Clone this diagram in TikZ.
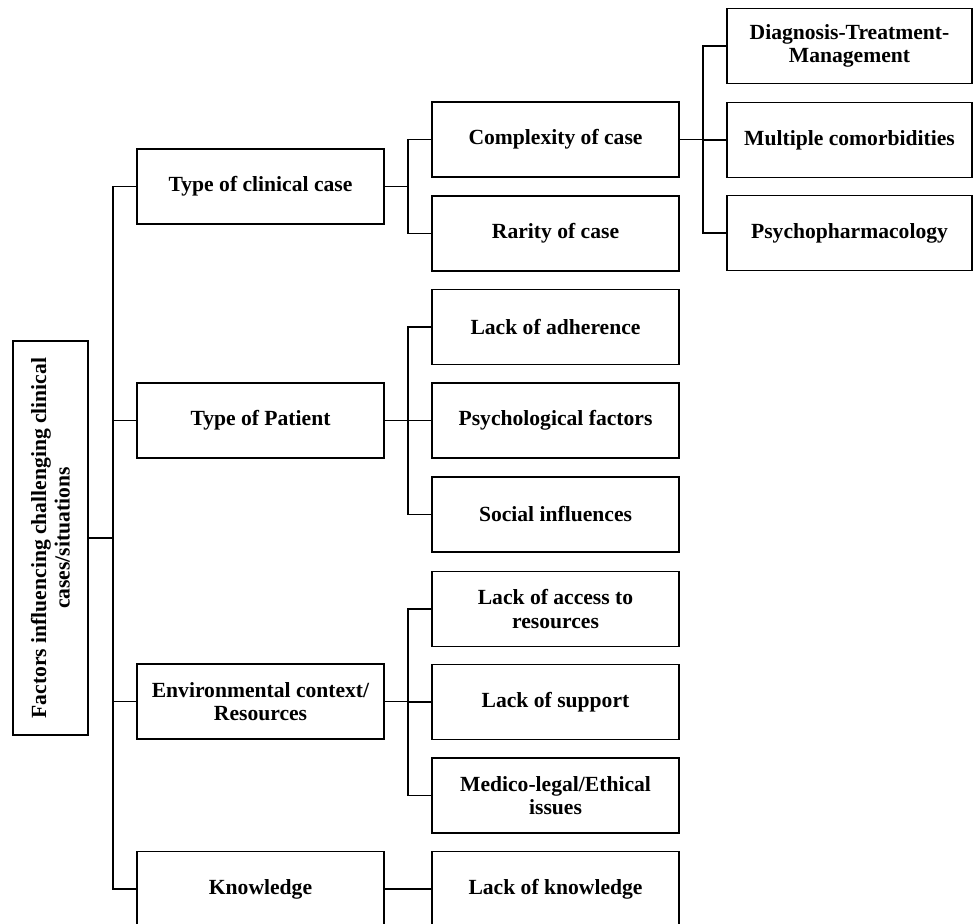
\documentclass[tikz,border=0pt]{standalone}
\usepackage{fontspec}
\setmainfont{Liberation Serif}
\usetikzlibrary{calc}

\begin{document}
\begin{tikzpicture}[x=1pt, y=-1pt, line width=1.8pt,
	every node/.style={draw=black, line width=1.8pt, align=center, inner sep=2pt,
		font=\bfseries\fontsize{21.6}{23.5}\selectfont},
	lvl/.style={minimum width=247pt, minimum height=75pt},
	leaf/.style={minimum width=245pt, minimum height=75pt}]
				\useasboundingbox (0,0) rectangle (973,923);
				\clip (0,0) rectangle (973,923);
				% root, turned on its side (so its right side is .south)
				\node[rotate=90, minimum width=394pt, minimum height=75pt] (root) at (50.5,538)
					{Factors influencing challenging clinical\\cases/situations};
				% first level
				\node[lvl] (clin) at (260.5,186.5) {Type of clinical case};
				\node[lvl] (pat) at (260.5,420.5) {Type of Patient};
				\node[lvl] (env) at (260.5,701.5) {Environmental context/\\Resources};
				\node[lvl] (know) at (260.5,889) {Knowledge};
				% second level
				\node[lvl] (cplx) at (555.5,139.5) {Complexity of case};
				\node[lvl] (rare) at (555.5,233.5) {Rarity of case};
				\node[lvl] (adh) at (555.5,327) {Lack of adherence};
				\node[lvl] (psy) at (555.5,420.5) {Psychological factors};
				\node[lvl] (soc) at (555.5,514.5) {Social influences};
				\node[lvl] (acc) at (555.5,609) {Lack of access to\\resources};
				\node[lvl] (sup) at (555.5,702) {Lack of support};
				\node[lvl] (legal) at (555.5,795.5) {Medico-legal/Ethical\\issues};
				\node[lvl] (lknow) at (555.5,889) {Lack of knowledge};
				% third level
				\node[leaf] (diag) at (849.5,46) {Diagnosis-Treatment-\\Management};
				\node[leaf] (comorb) at (849.5,140) {Multiple comorbidities};
				\node[leaf] (pharm) at (849.5,233) {Psychopharmacology};
				% junctions
				\coordinate (j0) at (113,538);
				\coordinate (j1) at (408,186.5);
				\coordinate (j2) at (408,420.5);
				\coordinate (j3) at (408,701.5);
				\coordinate (j4) at (703,139.5);
				\draw (root.south) -- (j0);
				\foreach \n in {clin,pat,env,know}
					\draw (j0) |- (\n.west);
				\draw (clin.east) -- (j1);
				\foreach \n in {cplx,rare}
					\draw (j1) |- (\n.west);
				\draw (pat.east) -- (j2);
				\foreach \n in {adh,psy,soc}
					\draw (j2) |- (\n.west);
				\draw (env.east) -- (j3);
				\foreach \n in {acc,sup,legal}
					\draw (j3) |- (\n.west);
				\draw (know.east) -- (lknow.west);
				\draw (cplx.east) -- (j4);
				\foreach \n in {diag,comorb,pharm}
					\draw (j4) |- (\n.west);
		\end{tikzpicture}
\end{document}
